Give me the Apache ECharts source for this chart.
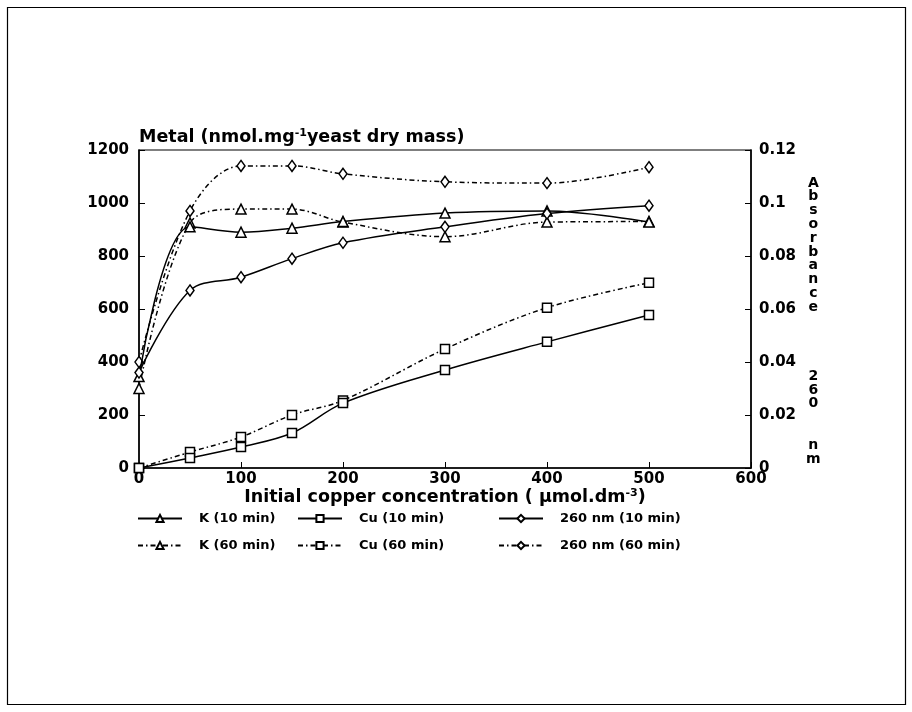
<!DOCTYPE html>
<html>
<head>
<meta charset="utf-8">
<script src="https://cdn.jsdelivr.net/npm/echarts@6/dist/echarts.min.js"></script>
<style>
  html, body { margin: 0; padding: 0; background: #fff; }
  #chart { width: 912px; height: 712px; }
</style>
</head>
<body>
<div id="chart"></div>
<script>
// data
const concentrations = [0, 50, 100, 150, 200, 300, 400, 500];
const kTen = [345, 910, 890, 905, 930, 962, 970, 928];
const kSixty = [300, 925, 977, 977, 928, 873, 928, 930];
const cuTen = [0, 38, 79, 132, 245, 370, 476, 577];
const cuSixty = [0, 60, 117, 200, 255, 449, 605, 699];
const absTen = [0.036, 0.067, 0.072, 0.079, 0.085, 0.091, 0.096, 0.099];
const absSixty = [0.040, 0.097, 0.114, 0.114, 0.111, 0.108, 0.1075, 0.1135];

const seriesNames = ['K (10 min)', 'Cu (10 min)', '260 nm (10 min)', 'K (60 min)', 'Cu (60 min)', '260 nm (60 min)'];

const FONT = 'DejaVu Sans';
const dashDot = [5, 3, 1.5, 3];

function pairs(values) {
  return concentrations.map((x, i) => [x, values[i]]);
}

function makeSeries(name, values, symbol, size, dashed, axis) {
  return {
    name,
    type: 'line',
    yAxisIndex: axis,
    smooth: 0.35,
    symbol,
    symbolSize: size,
    showAllSymbol: true,
    lineStyle: { color: '#000', width: 1.5, type: dashed ? dashDot : 'solid' },
    itemStyle: { color: '#fff', borderColor: '#000', borderWidth: 1.5 },
    emphasis: { disabled: true },
    z: dashed ? 2 : 3,
    data: pairs(values)
  };
}

const myChart = echarts.init(document.getElementById('chart'));

const legendPos = [
  [132, 507], [292, 507], [493, 507],
  [132, 534], [292, 534], [493, 534]
];

const supStyle = { fontFamily: FONT, fontWeight: 'bold', fontSize: 11, verticalAlign: 'top', padding: [0, 0, 8, 0] };

const option = {
  animation: false,
  backgroundColor: '#fff',
  textStyle: { fontFamily: FONT, fontWeight: 'bold', color: '#000' },
  grid: { left: 139, top: 150, width: 612, height: 318, show: true, borderColor: '#000', borderWidth: 1.2 },
  legend: seriesNames.map((n, i) => ({
    data: [n],
    left: legendPos[i][0],
    top: legendPos[i][1],
    itemWidth: 44,
    itemHeight: 9,
    selectedMode: false,
    textStyle: { fontFamily: FONT, fontWeight: 'bold', fontSize: 13, color: '#000', padding: [0, 0, 0, 12] }
  })),
  xAxis: {
    type: 'value',
    min: 0,
    max: 600,
    interval: 100,
    name: 'Initial copper concentration ( μmol.dm{sup|-3})',
    nameLocation: 'middle',
    nameGap: 18,
    nameTextStyle: {
      fontFamily: FONT, fontWeight: 'bold', fontSize: 17.5, color: '#000',
      rich: { sup: supStyle }
    },
    axisLine: { lineStyle: { color: '#000', width: 1.5 } },
    axisTick: { inside: true, length: 6, lineStyle: { color: '#000' } },
    splitLine: { show: false },
    axisLabel: { fontFamily: FONT, fontWeight: 'bold', fontSize: 15, color: '#000', margin: 4 }
  },
  yAxis: [
    {
      type: 'value',
      min: 0,
      max: 1200,
      interval: 200,
      name: 'Metal (nmol.mg{sup|-1}yeast dry mass)',
      nameLocation: 'end',
      nameGap: 3,
      nameTextStyle: {
        fontFamily: FONT, fontWeight: 'bold', fontSize: 17.5, color: '#000', align: 'left',
        rich: { sup: supStyle }
      },
      axisLine: { show: true, lineStyle: { color: '#000', width: 1.5 } },
      axisTick: { show: true, inside: true, length: 6, lineStyle: { color: '#000' } },
      splitLine: { show: false },
      axisLabel: {
        fontFamily: FONT, fontWeight: 'bold', fontSize: 15, color: '#000', margin: 10,
        formatter: v => String(v)
      }
    },
    {
      type: 'value',
      min: 0,
      max: 0.12,
      interval: 0.02,
      position: 'right',
      axisLine: { show: true, lineStyle: { color: '#000', width: 1.5 } },
      axisTick: { show: true, inside: true, length: 6, lineStyle: { color: '#000' } },
      splitLine: { show: false },
      axisLabel: {
        fontFamily: FONT, fontWeight: 'bold', fontSize: 15, color: '#000', margin: 8,
        formatter: v => String(+v.toFixed(2))
      }
    }
  ],
  graphic: [
    {
      type: 'rect',
      shape: { x: 7.5, y: 7.5, width: 898, height: 697 },
      style: { fill: null, stroke: '#000', lineWidth: 1.2 },
      silent: true
    },
    {
      type: 'text',
      left: 806,
      top: 176,
      style: {
        text: 'A\nb\ns\no\nr\nb\na\nn\nc\ne\n\n\n\n\n2\n6\n0\n\n\nn\nm',
        font: 'bold 14px "DejaVu Sans"',
        lineHeight: 13.8,
        fill: '#000',
        textAlign: 'center'
      },
      silent: true
    }
  ],
  series: [
    makeSeries('K (10 min)', kTen, 'triangle', 10, false, 0),
    makeSeries('Cu (10 min)', cuTen, 'rect', 9, false, 0),
    makeSeries('260 nm (10 min)', absTen, 'diamond', [8, 11], false, 1),
    makeSeries('K (60 min)', kSixty, 'triangle', 10, true, 0),
    makeSeries('Cu (60 min)', cuSixty, 'rect', 9, true, 0),
    makeSeries('260 nm (60 min)', absSixty, 'diamond', [8, 11], true, 1)
  ]
};

// 使用刚指定的配置项和数据显示图表。
myChart.setOption(option);
</script>
</body>
</html>
